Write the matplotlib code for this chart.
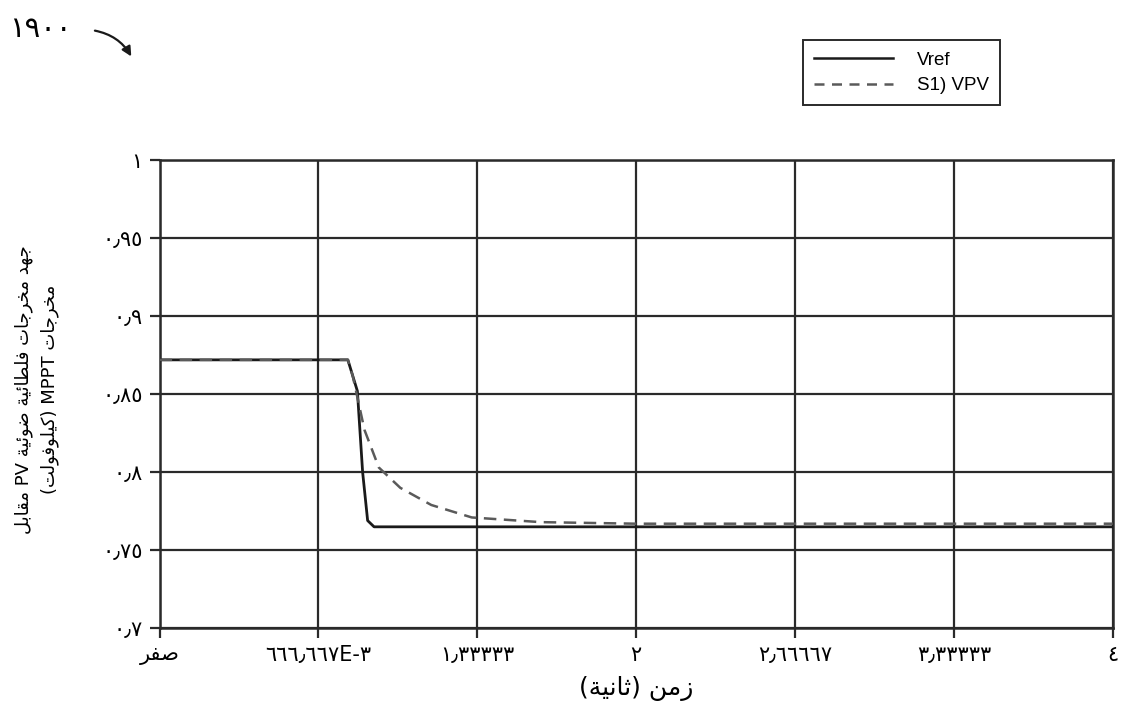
import matplotlib
matplotlib.use("Agg")
import matplotlib.pyplot as plt
from matplotlib.lines import Line2D

# --- data ---
t_vref = [0.0, 0.79, 0.83, 0.852, 0.873, 0.90, 0.93, 4.0]
v_vref = [0.872, 0.872, 0.852, 0.800, 0.769, 0.765, 0.765, 0.765]

t_vpv = [0.0, 0.79, 0.81, 0.86, 0.92, 1.01, 1.14, 1.31, 1.6, 2.0, 4.0]
v_vpv = [0.872, 0.872, 0.862, 0.827, 0.803, 0.790, 0.779, 0.771, 0.768, 0.767, 0.767]

xticks = [0, 0.666667, 1.33333, 2, 2.66667, 3.33333, 4]
xticklabels = ["صفر", "٦٦٦٫٦٦٧E-٣", "١٫٣٣٣٣٣", "٢", "٢٫٦٦٦٦٧", "٣٫٣٣٣٣٣", "٤"]
yticks = [0.7, 0.75, 0.8, 0.85, 0.9, 0.95, 1.0]
yticklabels = ["٠٫٧", "٠٫٧٥", "٠٫٨", "٠٫٨٥", "٠٫٩", "٠٫٩٥", "١"]

# minimal arabic shaping (matplotlib has no text shaping / bidi)
DUAL = {'ب': 0xFE8F, 'ت': 0xFE95, 'ث': 0xFE99, 'ج': 0xFE9D, 'ح': 0xFEA1, 'خ': 0xFEA5,
        'س': 0xFEB1, 'ش': 0xFEB5, 'ص': 0xFEB9, 'ض': 0xFEBD, 'ط': 0xFEC1, 'ظ': 0xFEC5,
        'ع': 0xFEC9, 'غ': 0xFECD, 'ف': 0xFED1, 'ق': 0xFED5, 'ك': 0xFED9, 'ل': 0xFEDD,
        'م': 0xFEE1, 'ن': 0xFEE5, 'ه': 0xFEE9, 'ي': 0xFEF1, 'ئ': 0xFE89}
RIGHT = {'ا': 0xFE8D, 'ة': 0xFE93, 'د': 0xFEA9, 'ذ': 0xFEAB, 'ر': 0xFEAD, 'ز': 0xFEAF,
         'و': 0xFEED, 'ى': 0xFEEF, 'ؤ': 0xFE85, 'أ': 0xFE83, 'إ': 0xFE87, 'آ': 0xFE81}


def sw(word):
    out = []
    for i, c in enumerate(word):
        prev = word[i - 1] if i > 0 else None
        nxt = word[i + 1] if i < len(word) - 1 else None
        jp = prev in DUAL and (c in DUAL or c in RIGHT)
        jn = c in DUAL and (nxt in DUAL or nxt in RIGHT)
        if c in DUAL:
            off = 3 if (jp and jn) else 1 if jp else 2 if jn else 0
            out.append(chr(DUAL[c] + off))
        elif c in RIGHT:
            out.append(chr(RIGHT[c] + (1 if jp else 0)))
        else:
            out.append(c)
    return "".join(reversed(out))


xticklabels = [sw(l) if l == "صفر" else l for l in xticklabels]
xlabel = "(" + sw("ثانية") + ") " + sw("زمن")
ylabel = (" ".join([sw("مقابل"), "PV", sw("ضوئية"), sw("فلطائية"), sw("مخرجات"), sw("جهد")])
          + "\n" + "(" + sw("كيلوفولت") + ") MPPT " + sw("مخرجات"))

fam = ["Liberation Sans", "DejaVu Sans"]
plt.rcParams["font.family"] = fam

fig = plt.figure(figsize=(11.24, 7.18), dpi=100)
ax = fig.add_axes([0.142, 0.125, 0.848, 0.652])

ax.plot(t_vref, v_vref, color="#1a1a1a", lw=2.0, zorder=3)
ax.plot(t_vpv, v_vpv, color="#5a5a5a", lw=1.8, ls=(0, (5, 3)), zorder=4)

ax.set_xlim(0, 4)
ax.set_ylim(0.7, 1.0)
ax.set_xticks(xticks)
ax.set_xticklabels(xticklabels, fontsize=15, family=["DejaVu Sans"])
ax.set_yticks(yticks)
ax.set_yticklabels(yticklabels, fontsize=15, family=["DejaVu Sans"])
ax.grid(True, color="#2a2a2a", lw=1.6)
ax.tick_params(direction="out", length=7, width=1.6, color="#2a2a2a", pad=5)
for s in ax.spines.values():
    s.set_color("#2a2a2a")
    s.set_linewidth(1.8)

ax.set_xlabel(xlabel, fontsize=18, family=["DejaVu Sans"], labelpad=8)
ax.set_ylabel(ylabel, fontsize=13, family=["DejaVu Sans"], linespacing=1.5)
ax.yaxis.set_label_coords(-0.106, 0.51)

handles = [Line2D([], [], color="#1a1a1a", lw=1.8),
           Line2D([], [], color="#5a5a5a", lw=1.8, ls=(0, (4, 3)))]
leg = fig.legend(handles, ["Vref", "S1) VPV"], loc="upper left",
                 bbox_to_anchor=(0.714, 0.944), fancybox=False, framealpha=1,
                 edgecolor="#2a2a2a", fontsize=13.5, handlelength=4.2,
                 borderpad=0.6, labelspacing=0.45, handletextpad=1.3,
                 borderaxespad=0)
leg.get_frame().set_linewidth(1.4)

fig.text(0.008, 0.960, "١٩٠٠", fontsize=21, family=["DejaVu Sans"], va="center")
ax.annotate("", xy=(0.118, 0.918), xycoords="figure fraction",
            xytext=(0.082, 0.958), textcoords="figure fraction",
            arrowprops=dict(arrowstyle="-|>", color="#1a1a1a", lw=1.6,
                            connectionstyle="arc3,rad=-0.25", mutation_scale=14))

fig.savefig("out.png", dpi=100)
